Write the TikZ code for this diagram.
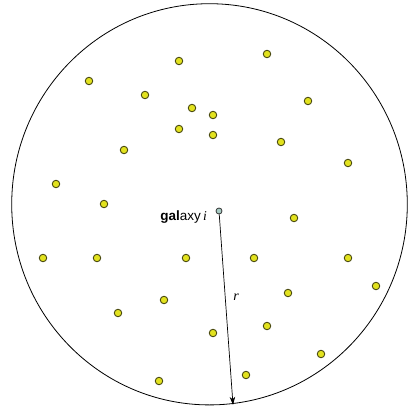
\documentclass[tikz,border=0pt]{standalone}
\usepackage{fontspec}
\setmainfont{Liberation Serif}
\newfontfamily\lsans{Liberation Sans}
\usetikzlibrary{arrows.meta}
\definecolor{dotfill}{HTML}{E2E21E}
\definecolor{dotline}{HTML}{4A4A10}
\definecolor{gfill}{HTML}{A8CCC4}
\begin{document}
\begin{tikzpicture}[x=1pt,y=-1pt,
  gal/.style={circle,draw=dotline,fill=dotfill,line width=0.9pt,minimum size=7.5pt,inner sep=0pt},
  centre/.style={circle,draw=black!80,fill=gfill,line width=0.8pt,minimum size=6pt,inner sep=0pt}]
\useasboundingbox (0,0) rectangle (408,409);
\fill[white] (0,0) rectangle (408,409);
\draw[line width=0.8pt] (209.5,204.3) ellipse [x radius=197.8, y radius=200.6];
\foreach \x/\y [count=\k] in {267/54,179/61,89/81,145/95,308/101,192/108,213/115,179/129,213/135,281/142,124/150,348/163,56/184,104/204,294/218,43/258,97/258,186/258,254/258,348/258,376/286,288/293,164/300,118/313,267/326,213/333,321/354,246/375,159/381}
  \node[gal] (g\k) at (\x,\y) {};
\node[centre] (gi) at (219,211) {};
\node[anchor=east,inner sep=0pt] (lab) at (207,217.5) {\fontsize{13.5}{16}\selectfont\lsans\bfseries gal\mdseries axy\,\rmfamily\itshape i};
\coordinate (edge) at (233,404.8);
\draw[line width=0.7pt,-{Stealth[length=8pt,width=5.5pt]}] (gi) -- (edge);
\node[inner sep=0pt] (r) at (236,297) {\fontsize{14}{16}\selectfont\itshape r};
\end{tikzpicture}
\end{document}
